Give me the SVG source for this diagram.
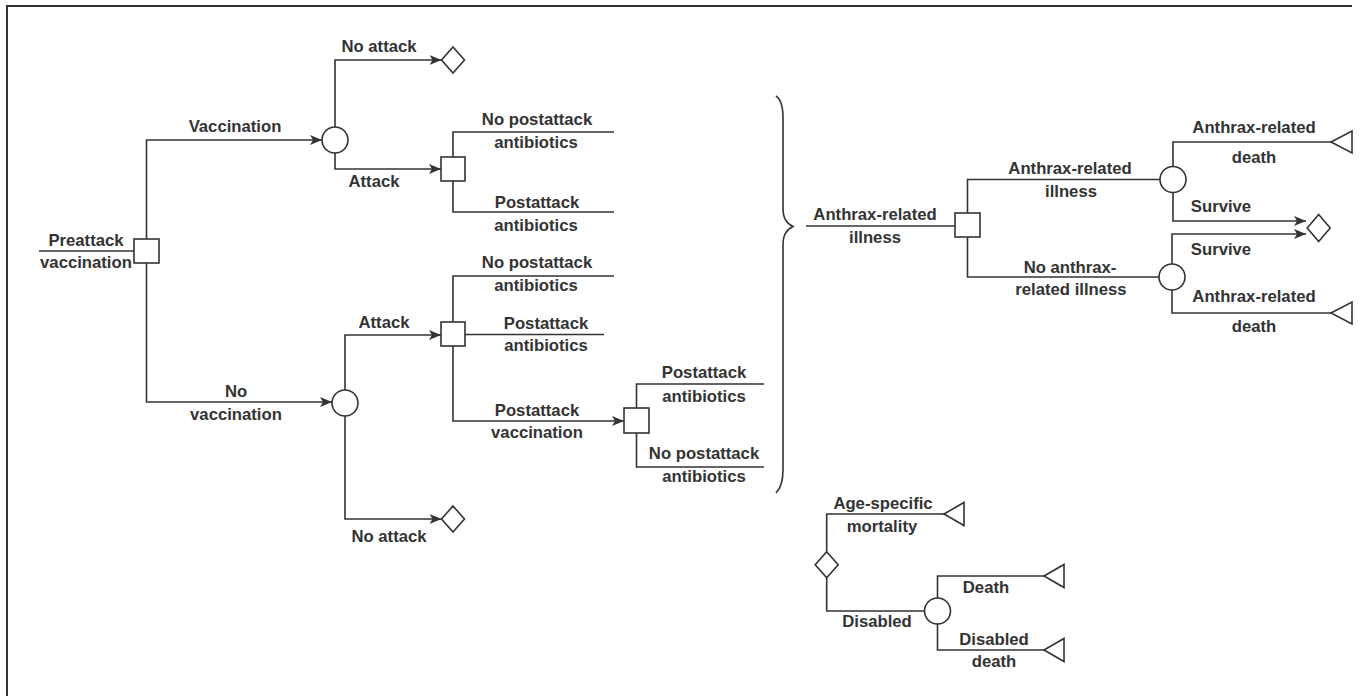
<svg xmlns="http://www.w3.org/2000/svg" width="1360" height="696" viewBox="0 0 1360 696">
<style>
.ln{fill:none;stroke:#333;stroke-width:1.6}
.nd{fill:#fff;stroke:#333;stroke-width:1.6}
.ar{marker-end:url(#arr)}
text{font-family:"Liberation Sans",Arial,sans-serif;font-weight:bold;font-size:16.7px;fill:#333;text-anchor:middle}
</style>
<defs>
<marker id="arr" viewBox="0 0 12 10" markerWidth="12" markerHeight="10" refX="12" refY="5" orient="auto" markerUnits="userSpaceOnUse">
<path d="M0,0 L12,5 L0,10 L3,5 z" fill="#333"/>
</marker>
</defs>
<rect width="1360" height="696" fill="#fff"/>
<path class="ln" d="M7,696 V6 H1352" style="stroke-width:2"/>

<g id="connectors">
<path class="ln" d="M39,251 H134"/>
<path class="ln ar" d="M146.5,239 V140 H322"/>
<path class="ln ar" d="M146.5,263 V402 H332"/>
<path class="ln ar" d="M335,127 V60 H441.5"/>
<path class="ln ar" d="M335,153 V169 H441"/>
<path class="ln" d="M453,157 V132 H614"/>
<path class="ln" d="M453,181 V212 H614"/>
<path class="ln ar" d="M345,390 V335 H441"/>
<path class="ln ar" d="M345,416 V519 H441.5"/>
<path class="ln" d="M453,322 V276 H614"/>
<path class="ln" d="M465,334.5 H604"/>
<path class="ln ar" d="M453,346 V421 H624"/>
<path class="ln" d="M636.5,408 V384 H764"/>
<path class="ln" d="M636.5,433 V467 H764"/>
<path class="ln" d="M776,96 C782,100 783,108 783,118 L783,208 C783,218 786,223 793,226.5 C786,230 783,235 783,245 L783,470 C783,482 781,488 776,493"/>
<path class="ln" d="M806,226 H955"/>
<path class="ln" d="M967.5,213 V179.5 H1160"/>
<path class="ln" d="M967.5,237 V277 H1159"/>
<path class="ln" d="M1173,166.5 V142 H1331"/>
<path class="ln ar" d="M1173,192.5 V221 H1306"/>
<path class="ln ar" d="M1172,264 V234 H1306"/>
<path class="ln" d="M1172,290 V313 H1331"/>
<path class="ln" d="M826.7,551.7 V514 H944"/>
<path class="ln" d="M826.7,577.7 V611 H924.5"/>
<path class="ln" d="M937.5,598 V576 H1044"/>
<path class="ln" d="M937.5,624 V650 H1044"/>
</g>

<g id="n-preattack"><rect class="nd" x="134" y="239" width="25" height="24"/><text x="86" y="246">Preattack</text><text x="86" y="268">vaccination</text></g>
<g id="n-vacc-chance"><circle class="nd" cx="335" cy="140" r="13"/><text x="235" y="132">Vaccination</text></g>
<g id="n-vacc-noattack"><path class="nd" d="M453,47 L464.5,60 L453,73 L441.5,60 z"/><text x="379" y="52">No attack</text></g>
<g id="n-vacc-attack"><rect class="nd" x="441" y="157" width="24" height="24"/><text x="374" y="187">Attack</text>
<text x="537" y="125">No postattack</text><text x="536" y="148">antibiotics</text>
<text x="537" y="208">Postattack</text><text x="536" y="231">antibiotics</text></g>
<g id="n-novacc-chance"><circle class="nd" cx="345" cy="403" r="13"/><text x="236" y="397">No</text><text x="236" y="420">vaccination</text></g>
<g id="n-novacc-attack"><rect class="nd" x="441" y="322" width="24" height="24"/><text x="384" y="328">Attack</text>
<text x="537" y="268">No postattack</text><text x="536" y="291">antibiotics</text>
<text x="546" y="329">Postattack</text><text x="546" y="351">antibiotics</text>
<text x="537" y="416">Postattack</text><text x="537" y="438">vaccination</text></g>
<g id="n-postvacc"><rect class="nd" x="624" y="408" width="25" height="25"/>
<text x="704" y="378">Postattack</text><text x="704" y="402">antibiotics</text>
<text x="704" y="459">No postattack</text><text x="704" y="482">antibiotics</text></g>
<g id="n-novacc-noattack"><path class="nd" d="M453,506 L464.5,519 L453,532 L441.5,519 z"/><text x="389" y="542">No attack</text></g>

<g id="n-illness"><rect class="nd" x="955" y="213" width="25" height="24"/><text x="875" y="220">Anthrax-related</text><text x="875" y="243">illness</text></g>
<g id="n-ill-chance"><circle class="nd" cx="1173" cy="179.5" r="13"/><text x="1070" y="174">Anthrax-related</text><text x="1071" y="197">illness</text></g>
<g id="n-noill-chance"><circle class="nd" cx="1172" cy="277" r="13"/><text x="1070" y="273">No anthrax-</text><text x="1071" y="295">related illness</text></g>
<g id="n-death1"><path class="nd" d="M1331,142 L1352,131 L1352,153 z"/><text x="1254" y="133">Anthrax-related</text><text x="1254" y="163">death</text></g>
<g id="n-survive"><path class="nd" d="M1318.7,214.5 L1330.2,228 L1318.7,241.5 L1307.2,228 z"/><text x="1221" y="212">Survive</text><text x="1221" y="255">Survive</text></g>
<g id="n-death2"><path class="nd" d="M1331,313 L1352,302 L1352,324 z"/><text x="1254" y="302">Anthrax-related</text><text x="1254" y="332">death</text></g>

<g id="n-markov"><path class="nd" d="M826.7,551.7 L838.2,564.7 L826.7,577.7 L815.2,564.7 z"/></g>
<g id="n-agemort"><path class="nd" d="M944,514 L964,502.5 L964,525.5 z"/><text x="883" y="509">Age-specific</text><text x="882" y="532">mortality</text></g>
<g id="n-disabled"><circle class="nd" cx="937.5" cy="611" r="13"/><text x="877" y="627">Disabled</text></g>
<g id="n-death3"><path class="nd" d="M1044,576 L1064,564.5 L1064,587.5 z"/><text x="986" y="593">Death</text></g>
<g id="n-disdeath"><path class="nd" d="M1044,650 L1064,638.5 L1064,661.5 z"/><text x="994" y="645">Disabled</text><text x="994" y="667">death</text></g>
</svg>
